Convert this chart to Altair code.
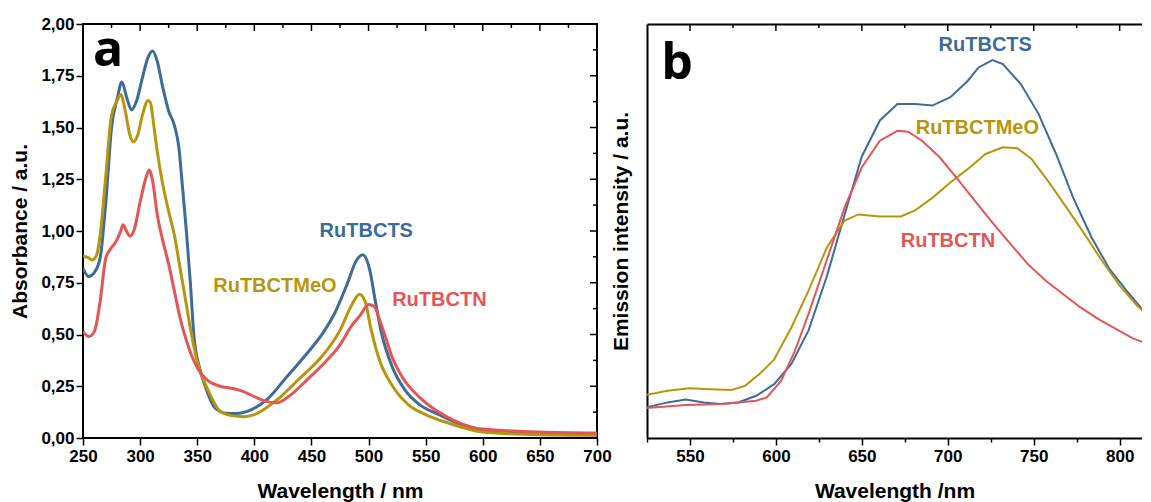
import altair as alt
import pandas as pd

SERIES = ["RuTBCTS", "RuTBCTMeO", "RuTBCTN"]
COLORS = ["#3e6b97", "#b7960f", "#e25656"]

# ---------------- Panel a: absorbance ----------------
a_ts_wl = [250, 255, 260, 265, 270, 275, 280, 284, 288.5, 292.5, 297, 302, 307, 311, 315, 320, 325, 330, 334,
           336.5, 340.5, 344, 347, 352, 357, 365.6, 375, 384, 397.5, 411, 427.6, 444, 461, 471, 481, 489.6, 495,
           500.7, 506, 511, 521, 531.5, 545, 561.7, 578, 595, 612, 645, 700]
a_ts_abs = [0.82, 0.78, 0.80, 0.87, 1.14, 1.50, 1.64, 1.72, 1.64, 1.585, 1.63, 1.74, 1.84, 1.87, 1.82, 1.69, 1.58,
            1.51, 1.40, 1.25, 1.00, 0.75, 0.50, 0.34, 0.25, 0.145, 0.12, 0.118, 0.137, 0.185, 0.29, 0.395, 0.515,
            0.61, 0.74, 0.86, 0.885, 0.82, 0.66, 0.515, 0.34, 0.235, 0.16, 0.113, 0.072, 0.043, 0.029, 0.022, 0.016]

a_meo_wl = [250, 255, 258, 262, 265, 270, 275, 280, 283, 287, 291, 294, 298, 302, 307, 309, 312, 315, 320, 325,
            330, 335, 340, 345, 350, 360, 370, 380, 391, 400, 420, 440, 460, 475, 485, 492, 497, 502, 510, 520,
            535, 550, 570, 600, 650, 700]
a_meo_abs = [0.88, 0.87, 0.86, 0.885, 0.98, 1.27, 1.56, 1.63, 1.66, 1.58, 1.465, 1.43, 1.465, 1.56, 1.63, 1.62,
             1.51, 1.385, 1.22, 1.095, 0.98, 0.82, 0.66, 0.50, 0.37, 0.225, 0.13, 0.108, 0.103, 0.113, 0.185,
             0.29, 0.40, 0.52, 0.64, 0.695, 0.66, 0.53, 0.37, 0.26, 0.16, 0.113, 0.072, 0.029, 0.016, 0.013]

a_n_wl = [250, 255, 260, 265, 270, 275, 279, 283, 285, 288, 291, 295, 300, 305, 308, 311, 315, 320, 325, 330,
          335, 340, 345, 350, 360, 370, 380, 390, 400, 410, 420, 430, 445, 460, 475, 485, 493, 500, 505, 510,
          515, 520, 530, 545, 560, 580, 600, 650, 700]
a_n_abs = [0.515, 0.49, 0.515, 0.66, 0.87, 0.92, 0.95, 1.00, 1.03, 1.00, 0.975, 1.01, 1.14, 1.255, 1.295, 1.24,
           1.08, 0.95, 0.84, 0.71, 0.58, 0.48, 0.40, 0.34, 0.275, 0.25, 0.24, 0.225, 0.20, 0.177, 0.17, 0.20,
           0.275, 0.355, 0.45, 0.54, 0.595, 0.645, 0.635, 0.565, 0.485, 0.40, 0.29, 0.195, 0.13, 0.072, 0.043,
           0.029, 0.024]

a_x_ticks = [250, 275, 300, 325, 350, 375, 400, 425, 450, 475, 500, 525, 550, 575, 600, 625, 650, 675, 700]
a_x_major = [250, 300, 350, 400, 450, 500, 550, 600, 650, 700]
a_x_minor = [275, 325, 375, 425, 475, 525, 575, 625, 675]
a_y_ticks = [0, 0.125, 0.25, 0.375, 0.5, 0.625, 0.75, 0.875, 1.0, 1.125, 1.25, 1.375, 1.5, 1.625, 1.75, 1.875, 2.0]
a_y_major = [0, 0.25, 0.5, 0.75, 1.0, 1.25, 1.5, 1.75, 2.0]
a_y_minor = [0.125, 0.375, 0.625, 0.875, 1.125, 1.375, 1.625, 1.875]

a_label_x = [498, 418, 562]
a_label_y = [1.00, 0.735, 0.668]

# ---------------- Panel b: emission ----------------
b_ts_wl = [524.5, 537, 547.5, 558, 568, 578, 588.6, 599, 609, 619, 629.6, 640, 650, 660.5, 670.7, 681, 691, 701.5,
           711.7, 717.9, 726, 732, 742.5, 752.8, 763, 773, 783.6, 793.8, 804, 818]
b_ts_int = [0.074, 0.086, 0.093, 0.086, 0.082, 0.086, 0.102, 0.13, 0.179, 0.26, 0.39, 0.54, 0.68, 0.767, 0.807,
            0.807, 0.803, 0.823, 0.863, 0.895, 0.913, 0.903, 0.855, 0.783, 0.686, 0.58, 0.485, 0.41, 0.356, 0.287]

b_meo_wl = [524.5, 537, 549.6, 562, 574, 582, 590.6, 599, 609, 619, 629.6, 640, 648, 660.5, 672.7, 681, 691, 701.5,
            711.7, 722, 732, 740.5, 748.7, 759, 769, 779.5, 789.7, 800, 810, 818]
b_meo_int = [0.104, 0.114, 0.12, 0.118, 0.116, 0.126, 0.155, 0.19, 0.267, 0.356, 0.46, 0.525, 0.54, 0.535, 0.535,
             0.55, 0.58, 0.617, 0.65, 0.686, 0.702, 0.70, 0.674, 0.617, 0.557, 0.493, 0.428, 0.368, 0.32, 0.29]

b_n_wl = [524.5, 547.5, 568, 578, 588.6, 594.7, 603, 611, 619, 629.6, 640, 650, 660.5, 670.7, 676.9, 685, 695.3,
          705.6, 715.8, 726, 736.4, 746.6, 757, 767, 777, 787.7, 798, 808, 818]
b_n_int = [0.072, 0.08, 0.082, 0.086, 0.09, 0.098, 0.138, 0.21, 0.30, 0.43, 0.557, 0.654, 0.718, 0.742, 0.74,
           0.718, 0.678, 0.626, 0.573, 0.52, 0.469, 0.42, 0.38, 0.348, 0.316, 0.287, 0.263, 0.24, 0.225]

b_x_ticks = [525, 550, 575, 600, 625, 650, 675, 700, 725, 750, 775, 800]
b_x_major = [550, 600, 650, 700, 750, 800]
b_x_minor = [575, 625, 675, 725, 775]

b_label_x = [721.8, 717.2, 700.1]
b_label_y = [0.949, 0.748, 0.475]

# ---------------- build tables ----------------
def long(wls, vals, names):
    rows = []
    for w, v, n in zip(wls, vals, names):
        rows += [{"wl": a, "val": b, "series": n} for a, b in zip(w, v)]
    return pd.DataFrame(rows)

df_a = long([a_ts_wl, a_meo_wl, a_n_wl], [a_ts_abs, a_meo_abs, a_n_abs], SERIES)
df_b = long([b_ts_wl, b_meo_wl, b_n_wl], [b_ts_int, b_meo_int, b_n_int], SERIES)
lab_a = pd.DataFrame({"wl": a_label_x, "val": a_label_y, "series": SERIES})
lab_b = pd.DataFrame({"wl": b_label_x, "val": b_label_y, "series": SERIES})

FONT = "Liberation Sans"
color = alt.Color("series:N", scale=alt.Scale(domain=SERIES, range=COLORS), legend=None)

W_A, H = 514, 414
W_B = 495

major50 = "datum.value % 50 == 0"

xa_scale = alt.Scale(domain=[250, 700], nice=False, zero=False)
ya_scale = alt.Scale(domain=[0, 2], nice=False)

xa_axis = alt.Axis(values=a_x_ticks, labelExpr=f"{major50} ? datum.label : ''", labelOverlap=False,
                   labelFlush=False, tickSize={"condition": {"test": major50, "value": 7}, "value": 4},
                   title="Wavelength / nm", grid=False, domain=False, tickColor="black", tickWidth=1.5,
                   labelFont=FONT, labelFontSize=17, labelFontWeight="bold", labelColor="black", labelPadding=3,
                   titleFont=FONT, titleFontSize=21, titleFontWeight="bold", titleColor="black", titlePadding=16)
ya_axis = alt.Axis(values=a_y_ticks,
                   labelExpr="(datum.value*4) % 1 == 0 ? replace(format(datum.value, '.2f'), '.', ',') : ''",
                   labelOverlap=False, labelFlush=False,
                   tickSize={"condition": {"test": "(datum.value*4) % 1 == 0", "value": 7}, "value": 4},
                   title="Absorbance / a.u.", grid=False, domain=False, tickColor="black", tickWidth=1.5,
                   labelFont=FONT, labelFontSize=17, labelFontWeight="bold", labelColor="black", labelPadding=2,
                   titleFont=FONT, titleFontSize=21, titleFontWeight="bold", titleColor="black", titlePadding=10)

lines_a = alt.Chart(df_a).mark_line(strokeWidth=3, interpolate="monotone", clip=True).encode(
    x=alt.X("wl:Q", scale=xa_scale, axis=xa_axis),
    y=alt.Y("val:Q", scale=ya_scale, axis=ya_axis),
    color=color, detail="series:N")

text_a = alt.Chart(lab_a).mark_text(font=FONT, fontSize=20, fontWeight="bold", baseline="middle").encode(
    x=alt.X("wl:Q", scale=xa_scale), y=alt.Y("val:Q", scale=ya_scale),
    text="series:N", color=color)

letter_a = alt.Chart(pd.DataFrame({"wl": [272], "val": [1.797], "t": ["a"]})).mark_text(
    font="Open Sans", fontSize=50, fontWeight="bold", baseline="alphabetic", color="black").encode(
    x=alt.X("wl:Q", scale=xa_scale), y=alt.Y("val:Q", scale=ya_scale), text="t:N")

top_major_a = alt.Chart(pd.DataFrame({"wl": a_x_major})).mark_rule(color="black", strokeWidth=1.5).encode(
    x=alt.X("wl:Q", scale=xa_scale), y=alt.value(0), y2=alt.value(7))
top_minor_a = alt.Chart(pd.DataFrame({"wl": a_x_minor})).mark_rule(color="black", strokeWidth=1.5).encode(
    x=alt.X("wl:Q", scale=xa_scale), y=alt.value(0), y2=alt.value(4))
right_major_a = alt.Chart(pd.DataFrame({"val": a_y_major})).mark_rule(color="black", strokeWidth=1.5).encode(
    y=alt.Y("val:Q", scale=ya_scale), x=alt.value(W_A - 7), x2=alt.value(W_A))
right_minor_a = alt.Chart(pd.DataFrame({"val": a_y_minor})).mark_rule(color="black", strokeWidth=1.5).encode(
    y=alt.Y("val:Q", scale=ya_scale), x=alt.value(W_A - 4), x2=alt.value(W_A))

panel_a = alt.layer(lines_a, text_a, letter_a, top_major_a, top_minor_a, right_major_a, right_minor_a).properties(
    width=W_A, height=H, view=alt.ViewBackground(stroke="black", strokeWidth=2))

# panel b
xb_scale = alt.Scale(domain=[525, 813], nice=False, zero=False)
yb_scale = alt.Scale(domain=[0, 1], nice=False)

xb_axis = alt.Axis(values=b_x_ticks, labelExpr=f"{major50} ? datum.label : ''", labelOverlap=False,
                   labelFlush=False, tickSize={"condition": {"test": major50, "value": 7}, "value": 4},
                   title="Wavelength /nm", grid=False, domain=True, domainColor="black", domainWidth=2,
                   tickColor="black", tickWidth=1.5,
                   labelFont=FONT, labelFontSize=17, labelFontWeight="bold", labelColor="black", labelPadding=3,
                   titleFont=FONT, titleFontSize=21, titleFontWeight="bold", titleColor="black", titlePadding=16)
yb_axis = alt.Axis(labels=False, ticks=False, grid=False, domain=True, domainColor="black", domainWidth=2,
                   title="Emission intensity / a.u.", titleFont=FONT, titleFontSize=21, titleFontWeight="bold",
                   titleColor="black", titlePadding=16)

lines_b = alt.Chart(df_b).mark_line(strokeWidth=2, clip=True).encode(
    x=alt.X("wl:Q", scale=xb_scale, axis=xb_axis),
    y=alt.Y("val:Q", scale=yb_scale, axis=yb_axis),
    color=color, detail="series:N")

text_b = alt.Chart(lab_b).mark_text(font=FONT, fontSize=20, fontWeight="bold", baseline="middle").encode(
    x=alt.X("wl:Q", scale=xb_scale, axis=None), y=alt.Y("val:Q", scale=yb_scale),
    text="series:N", color=color)

letter_b = alt.Chart(pd.DataFrame({"wl": [542.5], "val": [0.866], "t": ["b"]})).mark_text(
    font="Open Sans", fontSize=50, fontWeight="bold", baseline="alphabetic", color="black").encode(
    x=alt.X("wl:Q", scale=xb_scale, axis=None), y=alt.Y("val:Q", scale=yb_scale), text="t:N")

top_line_b = alt.Chart(pd.DataFrame({"wl": b_x_major})).mark_rule(color="black", strokeWidth=1.5).encode(
    x=alt.X("wl:Q", scale=xb_scale, axis=alt.Axis(orient="top", labels=False, ticks=False, grid=False,
                                                    title=None, domain=True, domainColor="black",
                                                    domainWidth=2)),
    y=alt.value(0), y2=alt.value(7))
top_minor_b = alt.Chart(pd.DataFrame({"wl": b_x_minor})).mark_rule(color="black", strokeWidth=1.5).encode(
    x=alt.X("wl:Q", scale=xb_scale, axis=None), y=alt.value(0), y2=alt.value(4))

panel_b = alt.layer(lines_b, text_b, letter_b, top_line_b, top_minor_b).resolve_axis(x="independent").properties(
    width=W_B, height=H, view=alt.ViewBackground(stroke=None, strokeWidth=0))

chart = alt.hconcat(panel_a, panel_b, spacing=50, bounds="flush").properties(
    padding={"left": 0, "top": 6, "right": 0, "bottom": 0}
).configure_view(stroke="black", strokeWidth=2)

chart.save("out.html", embed_options={"renderer": "svg", "actions": False})
